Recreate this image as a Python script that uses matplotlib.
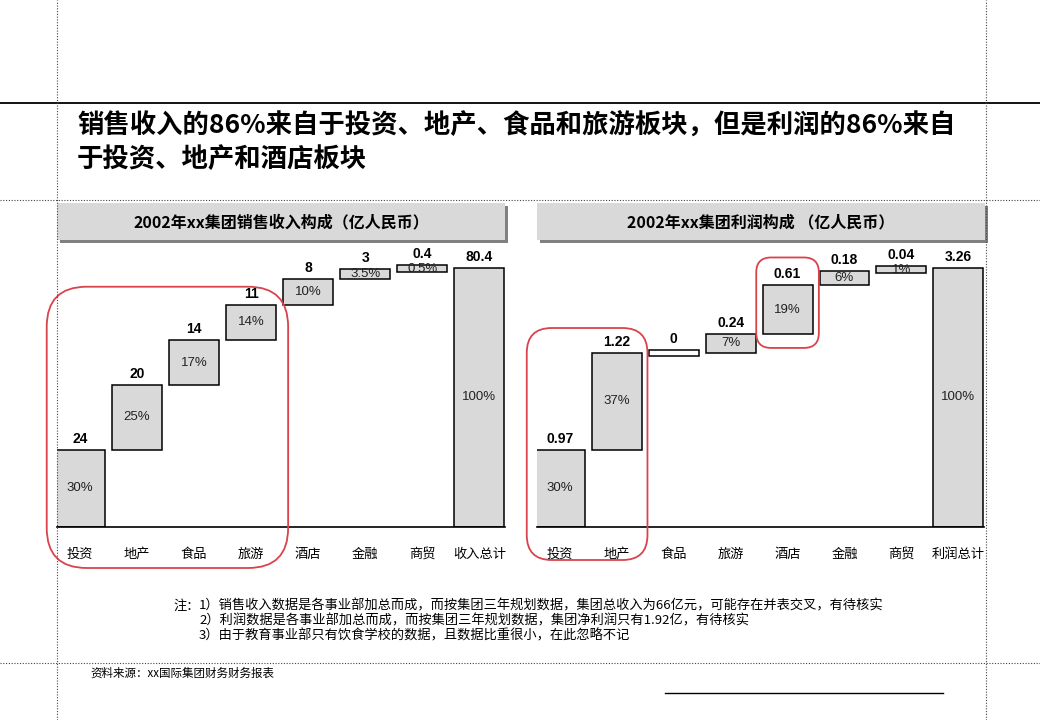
import numpy as np
import matplotlib.pyplot as plt
from matplotlib.patches import Rectangle, FancyBboxPatch
from matplotlib.lines import Line2D
from matplotlib.transforms import IdentityTransform

plt.rcParams['font.family'] = ['Noto Sans CJK SC', 'DejaVu Sans']

# ---- data ----
headline = "销售收入的86%来自于投资、地产、食品和旅游板块，但是利润的86%来自\n于投资、地产和酒店板块"
rev_title = "2002年xx集团销售收入构成（亿人民币）"
prof_title = "2002年xx集团利润构成 （亿人民币）"

rev_cats = ['投资', '地产', '食品', '旅游', '酒店', '金融', '商贸', '收入总计']
rev_vals = [24, 20, 14, 11, 8, 3, 0.4]
rev_total = 80.4
rev_pct = ['30%', '25%', '17%', '14%', '10%', '3.5%', '0.5%', '100%']

prof_cats = ['投资', '地产', '食品', '旅游', '酒店', '金融', '商贸', '利润总计']
prof_vals = [0.97, 1.22, 0, 0.24, 0.61, 0.18, 0.04]
prof_total = 3.26
prof_pct = ['30%', '37%', '', '7%', '19%', '6%', '1%', '100%']

notes = ["1）销售收入数据是各事业部加总而成，而按集团三年规划数据，集团总收入为66亿元，可能存在并表交叉，有待核实",
         "2）利润数据是各事业部加总而成，而按集团三年规划数据，集团净利润只有1.92亿，有待核实",
         "3）由于教育事业部只有饮食学校的数据，且数据比重很小，在此忽略不记"]
source = "资料来源：xx国际集团财务财务报表"

FILL = '#d9d9d9'
RED = '#d9434b'
W, H = 1040, 720

fig = plt.figure(figsize=(W / 100, H / 100), dpi=100)


def fx(x):
    return x / W


def fy(y):
    # pixel from top -> figure fraction
    return 1 - y / H


# page frame lines
dots = (0, (1, 1.5))
fig.add_artist(Line2D([0, 1], [fy(103)] * 2, color='black', lw=1.3))
fig.add_artist(Line2D([0, 1], [fy(200)] * 2, color='#444', lw=0.8, ls=dots))
fig.add_artist(Line2D([0, 1], [fy(663)] * 2, color='#444', lw=0.8, ls=dots))
fig.add_artist(Line2D([fx(57)] * 2, [0, 1], color='#444', lw=0.8, ls=dots))
fig.add_artist(Line2D([fx(986)] * 2, [0, 1], color='#444', lw=0.8, ls=dots))
fig.add_artist(Line2D([fx(665), fx(943)], [fy(693)] * 2, color='black', lw=1.0))

fig.text(fx(77), fy(112), headline, fontsize=19, fontweight='bold',
         va='top', ha='left', linespacing=1.32)


def header(x0, x1, text):
    # grey header band with a darker drop shadow
    fig.add_artist(Rectangle((fx(x0 + 3), fy(243)), fx(x1 - x0), fy(206) - fy(243),
                             transform=fig.transFigure, facecolor='#808080', edgecolor='none'))
    fig.add_artist(Rectangle((fx(x0), fy(240)), fx(x1 - x0), fy(203) - fy(240),
                             transform=fig.transFigure, facecolor=FILL, edgecolor='none'))
    fig.text(fx((x0 + x1) / 2), fy(222), text, ha='center', va='center',
             fontsize=11.5, fontweight='bold')


header(57, 505, rev_title)
header(537, 985, prof_title)


def waterfall(ax, vals, total, pcts, cats, min_h):
    vals = np.array(vals, float)
    heights = np.append(vals, total)
    bottoms = np.append(np.concatenate([[0], np.cumsum(vals)[:-1]]), 0)
    shown_h = np.maximum(heights, min_h)
    shown_b = bottoms + heights / 2 - shown_h / 2
    x = np.arange(len(heights))
    colors = [FILL if h > 0 else 'white' for h in heights]
    ax.bar(x, shown_h, bottom=shown_b, width=0.877, color=colors,
           edgecolor='black', linewidth=1.1)
    for i in x:
        top = shown_b[i] + shown_h[i]
        ax.annotate(f'{heights[i]:g}', (i, top), xytext=(0, 3), textcoords='offset points',
                    ha='center', va='bottom', fontsize=10, fontweight='bold',
                    family='Liberation Sans')
        ax.text(i, shown_b[i] + shown_h[i] / 2, pcts[i], ha='center', va='center',
                fontsize=9.5, family='Liberation Sans', color='#222')
    ax.set_xlim(-0.40, 7.45)
    ax.set_xticks(x, cats)
    ax.set_yticks([])
    ax.tick_params(axis='x', length=0, pad=15, labelsize=9.5)
    for s in ['left', 'right', 'top']:
        ax.spines[s].set_visible(False)
    ax.spines['bottom'].set_linewidth(1.2)
    ax.patch.set_alpha(0)
    return bottoms + heights


def highlight(ax, x0, x1, y0, y1, pad_lo, pad_hi, r):
    px0, py0 = ax.transData.transform((x0, y0))
    px1, py1 = ax.transData.transform((x1, y1))
    box = FancyBboxPatch((px0, py0 - pad_lo), px1 - px0, py1 - py0 + pad_lo + pad_hi,
                         boxstyle=f'round,pad=0,rounding_size={r}', transform=IdentityTransform(),
                         facecolor='none', edgecolor=RED, lw=1.3)
    fig.add_artist(box)


bottom = fy(527)
height = (527 - 245) / H
ax1 = fig.add_axes([fx(57), bottom, fx(505 - 57), height])
ax2 = fig.add_axes([fx(537), bottom, fx(984 - 537), height])
ax1.set_ylim(0, rev_total * 282 / 259)
ax2.set_ylim(0, prof_total * 282 / 259)

rev_tops = waterfall(ax1, rev_vals, rev_total, rev_pct, rev_cats, 2.0)
prof_tops = waterfall(ax2, prof_vals, prof_total, prof_pct, prof_cats, 0.08)

highlight(ax1, -0.58, 3.65, 0, rev_tops[3], 41, 18, 40)
highlight(ax2, -0.58, 1.54, 0, prof_tops[1], 33, 25, 25)
highlight(ax2, 3.45, 4.55, prof_tops[3], prof_tops[4], 14, 28, 15)

# footnotes
fig.text(fx(173), fy(606), '注：', fontsize=9.5, va='center')
for k, line in enumerate(notes):
    fig.text(fx(199), fy(606 + 15 * k), line, fontsize=9.5, va='center')
fig.text(fx(90), fy(673), source, fontsize=8.3, va='center')

fig.savefig('out.png', dpi=100)
